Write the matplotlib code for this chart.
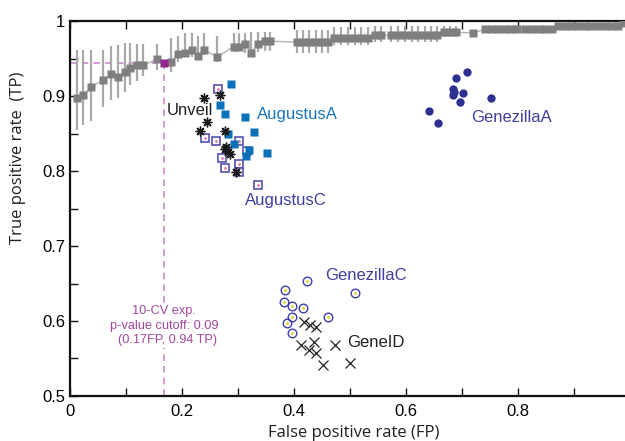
import matplotlib
matplotlib.use("Agg")
import matplotlib.pyplot as plt
import numpy as np

plt.rcParams['font.family'] = ['Liberation Sans', 'DejaVu Sans']

# gray ROC-like curve of the p-value cutoff sweep
curve_fp = [0.013, 0.024, 0.037, 0.059, 0.073, 0.085, 0.098, 0.108, 0.119, 0.131,
            0.155, 0.180, 0.193, 0.205, 0.217, 0.229, 0.240, 0.263, 0.292, 0.301,
            0.313, 0.323, 0.336, 0.348, 0.357,
            0.405, 0.416, 0.427, 0.439, 0.450, 0.461,
            0.472, 0.484, 0.496, 0.508, 0.520, 0.532, 0.545, 0.556,
            0.574, 0.586, 0.598, 0.610, 0.622, 0.634, 0.645, 0.655,
            0.668, 0.679, 0.690, 0.720,
            0.741, 0.753, 0.765, 0.776, 0.788, 0.798,
            0.813, 0.825, 0.837, 0.848, 0.860,
            0.871, 0.883, 0.895, 0.907, 0.919, 0.931, 0.943, 0.955, 0.967, 0.979, 0.988]
curve_tp = [0.898, 0.901, 0.912, 0.921, 0.929, 0.925, 0.932, 0.937, 0.941, 0.941,
            0.949, 0.945, 0.956, 0.957, 0.961, 0.953, 0.961, 0.952, 0.966, 0.966,
            0.969, 0.958, 0.969, 0.973, 0.973,
            0.972, 0.972, 0.972, 0.972, 0.972, 0.972,
            0.978, 0.978, 0.978, 0.978, 0.978, 0.978, 0.981, 0.981,
            0.981, 0.981, 0.981, 0.981, 0.981, 0.981, 0.981, 0.981,
            0.985, 0.985, 0.985, 0.984,
            0.989, 0.989, 0.989, 0.989, 0.989, 0.989,
            0.989, 0.989, 0.989, 0.989, 0.990,
            0.994, 0.994, 0.994, 0.994, 0.994, 0.994, 0.994, 0.994, 0.994, 0.994, 0.997]
curve_err_hi = [0.063, 0.060, 0.049, 0.040, 0.037, 0.043, 0.038, 0.033, 0.029, 0.029,
                0.021, 0.032, 0.024, 0.027, 0.023, 0.027, 0.023, 0.028, 0.018, 0.018,
                0.015, 0.028, 0.017, 0.013, 0.013,
                0.016, 0.016, 0.016, 0.016, 0.016, 0.016,
                0.014, 0.014, 0.014, 0.014, 0.014, 0.014, 0.012, 0.012,
                0.012, 0.012, 0.012, 0.012, 0.012, 0.012, 0.012, 0.012,
                0.008, 0.008, 0.008, 0.0,
                0, 0, 0, 0, 0, 0, 0, 0, 0, 0, 0, 0, 0, 0, 0, 0, 0, 0, 0, 0, 0, 0]
curve_err_lo = [0.043, 0.039, 0.045, 0.036, 0.034, 0.028, 0.027, 0.022, 0.021, 0.014,
                0.014, 0.013, 0.011, 0.005, 0.009, 0.003, 0.006, 0.007, 0.007, 0.006,
                0.011, 0.003, 0.010, 0.013, 0.013,
                0.015, 0.015, 0.015, 0.015, 0.015, 0.015,
                0.010, 0.010, 0.010, 0.010, 0.010, 0.010, 0.009, 0.009,
                0.009, 0.009, 0.009, 0.009, 0.009, 0.009, 0.009, 0.009,
                0.006, 0.006, 0.006, 0.0,
                0, 0, 0, 0, 0, 0, 0, 0, 0, 0, 0, 0, 0, 0, 0, 0, 0, 0, 0, 0, 0, 0]

cutoff_fp = 0.167
cutoff_tp = 0.944

unveil_fp = [0.240, 0.268, 0.244, 0.232, 0.276, 0.277, 0.279, 0.283, 0.286, 0.296]
unveil_tp = [0.898, 0.901, 0.866, 0.854, 0.854, 0.830, 0.832, 0.826, 0.823, 0.799]

augA_fp = [0.288, 0.268, 0.276, 0.313, 0.329, 0.282, 0.292, 0.320, 0.352, 0.314]
augA_tp = [0.916, 0.888, 0.876, 0.872, 0.852, 0.849, 0.836, 0.828, 0.824, 0.820]

augC_fp = [0.265, 0.241, 0.260, 0.301, 0.316, 0.272, 0.276, 0.301, 0.302, 0.336]
augC_tp = [0.909, 0.844, 0.840, 0.840, 0.827, 0.817, 0.804, 0.809, 0.799, 0.781]

genA_fp = [0.709, 0.689, 0.684, 0.701, 0.684, 0.697, 0.752, 0.641, 0.657, 0.686]
genA_tp = [0.932, 0.924, 0.909, 0.904, 0.901, 0.892, 0.897, 0.880, 0.864, 0.906]

genC_fp = [0.424, 0.384, 0.509, 0.383, 0.397, 0.416, 0.397, 0.460, 0.388, 0.396]
genC_tp = [0.653, 0.641, 0.637, 0.625, 0.620, 0.617, 0.605, 0.605, 0.597, 0.584]

geneid_fp = [0.417, 0.429, 0.440, 0.412, 0.435, 0.473, 0.427, 0.440, 0.452, 0.500]
geneid_tp = [0.599, 0.595, 0.592, 0.568, 0.572, 0.568, 0.561, 0.557, 0.542, 0.544]

fig = plt.figure(figsize=(6.25, 4.41), dpi=100)
ax = fig.add_axes([70 / 625, 1 - 396 / 441, 555 / 625, 375 / 441])

# dashed guide lines to the chosen cutoff
ax.plot([0, cutoff_fp], [cutoff_tp, cutoff_tp], ls=(0, (4, 3)), color='#c78ccc', lw=1.2, zorder=1)
ax.plot([cutoff_fp, cutoff_fp], [0.5, cutoff_tp], ls=(0, (4, 3)), color='#c78ccc', lw=1.2, zorder=1)

ax.errorbar(curve_fp, curve_tp, yerr=[curve_err_lo, curve_err_hi], fmt='none',
            ecolor='#a9a9a9', elinewidth=1.6, capsize=0, zorder=2)
ax.plot(curve_fp, curve_tp, color='#b4b4b4', lw=1.0, zorder=3)
ax.plot(curve_fp, curve_tp, 's', color='#7f7f80', ms=5.8, mec='none', zorder=4)
ax.plot([cutoff_fp], [cutoff_tp], 's', color='#93278f', ms=5.8, mec='none', zorder=5)

# gene finder results
ax.plot(genA_fp, genA_tp, 'o', color='#2e3192', ms=6, mec='none', zorder=5)
ax.plot(genC_fp, genC_tp, 'o', mfc='none', mec='#3c3caa', mew=1.0, ms=6.2, zorder=5)
ax.plot(genC_fp, genC_tp, '.', color='#e6d21e', ms=2, zorder=6)
ax.plot(augC_fp, augC_tp, 's', mfc='white', mec='#5552b0', mew=1.2, ms=6.3, zorder=5)
ax.plot(augC_fp, augC_tp, '.', color='#e07ab8', ms=2, zorder=6)
ax.plot(augA_fp, augA_tp, 's', color='#0b71b9', ms=5.8, mec='none', zorder=6)
ax.plot(unveil_fp, unveil_tp, marker=(8, 2, 0), ls='none', color='#1a1a1a', ms=7, mew=1.0, zorder=7)
ax.plot(geneid_fp, geneid_tp, 'x', color='#222222', ms=6.5, mew=0.9, zorder=5)

lab = dict(fontsize=12, va='center', ha='left')
ax.text(0.173, 0.881, 'Unveil', color='#231f20', **lab)
ax.text(0.334, 0.875, 'AugustusA', color='#1b75bc', **lab)
ax.text(0.312, 0.761, 'AugustusC', color='#3f3f9f', **lab)
ax.text(0.717, 0.872, 'GenezillaA', color='#3f3f9f', **lab)
ax.text(0.455, 0.661, 'GenezillaC', color='#3f3f9f', **lab)
ax.text(0.495, 0.571, 'GeneID', color='#231f20', **lab)

ax.text(0.168, 0.594, '10-CV exp.\np-value cutoff: 0.09\n  (0.17FP, 0.94 TP)',
        color='#a2469f', fontsize=9.2, ha='center', va='center', linespacing=1.3,
        bbox=dict(facecolor='white', edgecolor='none', pad=1), zorder=8)

ax.set_xlim(0, 0.991)
ax.set_ylim(0.5, 1.0)
ax.set_xticks([0, 0.2, 0.4, 0.6, 0.8])
ax.set_xticklabels(['0', '0.2', '0.4', '0.6', '0.8'])
ax.set_xticks(np.arange(0.1, 1.0, 0.2), minor=True)
ax.set_yticks([0.5, 0.6, 0.7, 0.8, 0.9, 1.0])
ax.set_yticklabels(['0.5', '0.6', '0.7', '0.8', '0.9', '1'])
ax.set_yticks([0.55, 0.65, 0.75, 0.85, 0.95], minor=True)
ax.tick_params(which='both', direction='in', length=6, width=1, top=True,
               labelsize=12, color='#111111')
ax.tick_params(axis='x', pad=6)
ax.spines['right'].set_visible(False)
for s in ['left', 'bottom', 'top']:
    ax.spines[s].set_linewidth(1.6)
    ax.spines[s].set_color('#111111')

fig.text(354 / 625, 1 - 433 / 441, 'False positive rate (FP)', ha='center', va='center',
         fontsize=12, family=['Open Sans', 'DejaVu Sans'], color='#231f20')
fig.text(18 / 625, 1 - 158 / 441, 'True positive rate  (TP)', ha='center', va='center',
         rotation=90, fontsize=12, family=['Open Sans', 'DejaVu Sans'], color='#231f20')

fig.savefig('out.png', dpi=100)
